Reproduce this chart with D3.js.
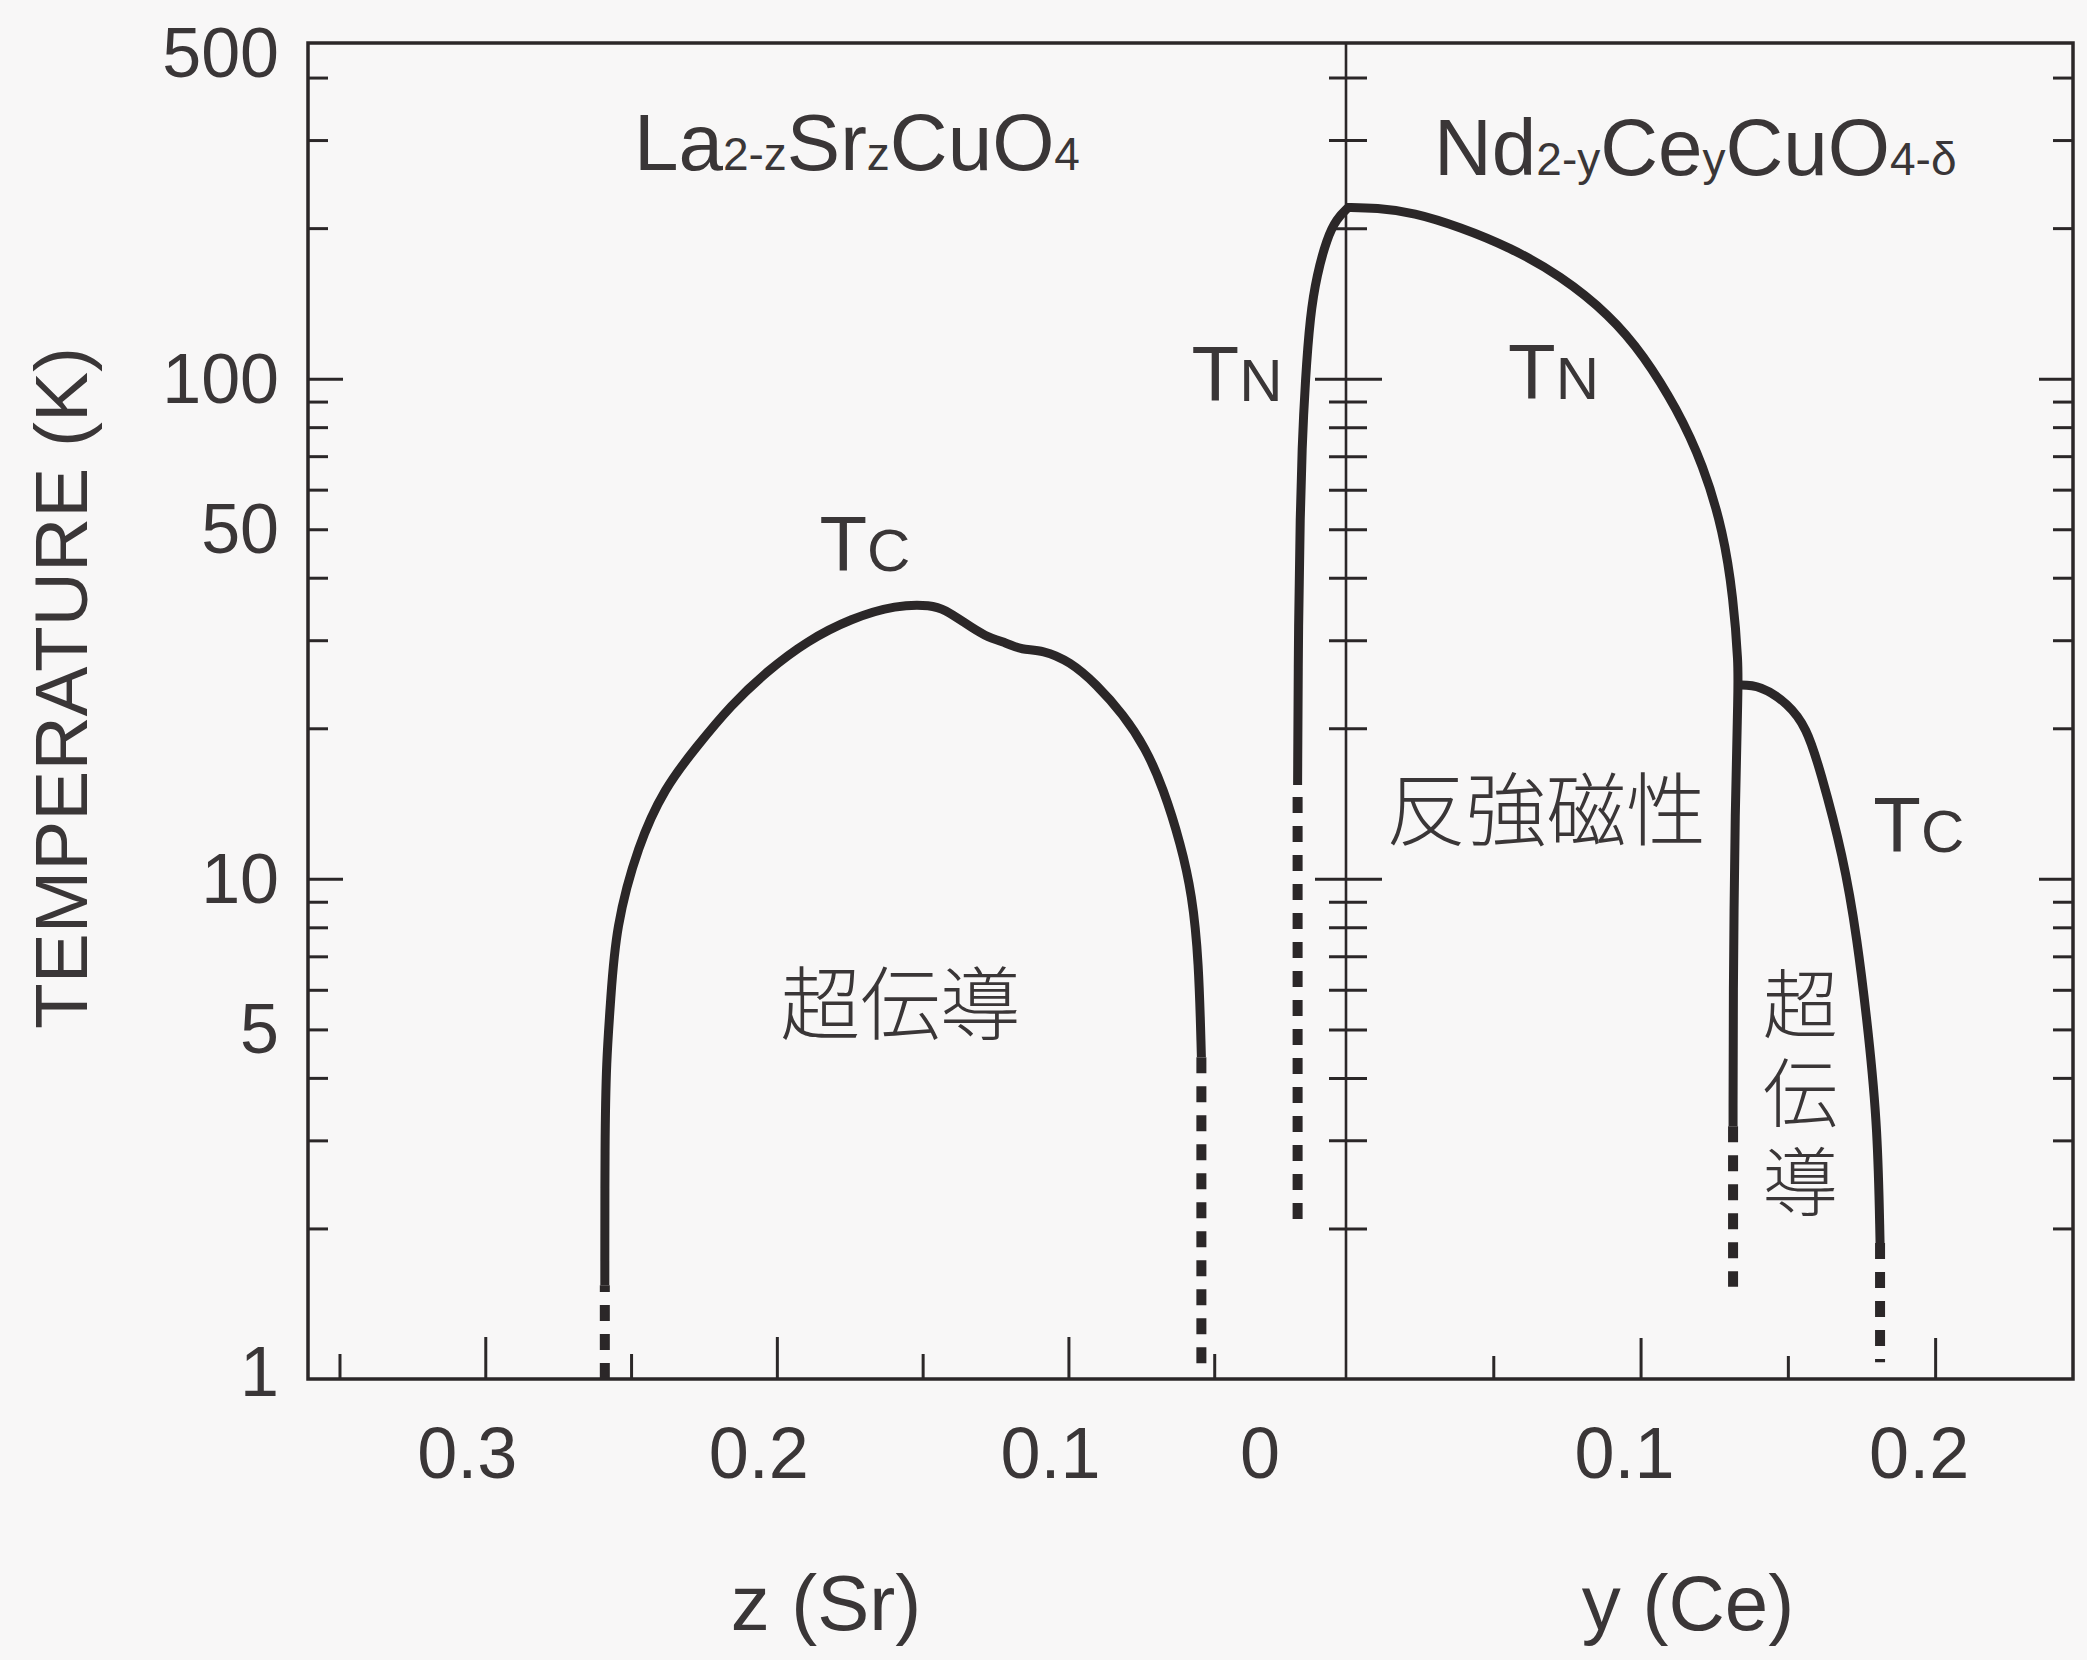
<!DOCTYPE html>
<html>
<head>
<meta charset="utf-8">
<script src="https://cdn.jsdelivr.net/npm/d3@7"></script>
<style>
  body { margin: 0; background: #f8f7f7; }
  svg text { font-family: "Liberation Sans", Arial, sans-serif; fill: #3a3637; }
  .tick line { stroke: #2b2728; stroke-width: 3; }
  .jp { font-family: "Noto Sans CJK JP", sans-serif; }
</style>
</head>
<body>
<div id="chart"></div>
<script>
// tick values
const yMinorTicks = [2, 3, 4, 5, 6, 7, 8, 9, 20, 30, 40, 50, 60, 70, 80, 90, 200, 300, 400];
const yMajorTicks = [10, 100];
const yTickLabels = [1, 5, 10, 50, 100, 500];
const zMinorTicks = [0.35, 0.25, 0.15, 0.05];
const zMajorTicks = [0.3, 0.2, 0.1];
const zTickLabels = ['0.3', '0.2', '0.1', '0'];
const ceMinorTicks = [0.05, 0.15];
const ceMajorTicks = [0.1, 0.2];
const ceTickLabels = ['0.1', '0.2'];

// La2-zSrzCuO4 : [z, T(K)]
const srTc = [[0.259, 1.54], [0.259, 3.0], [0.2585, 4.33], [0.257, 5.7], [0.2553, 8.0], [0.2476, 11.7],
  [0.2385, 15.2], [0.2278, 18.3], [0.2156, 22.3], [0.2034, 26.0], [0.1897, 29.9], [0.1744, 33.2],
  [0.1591, 35.3], [0.1469, 35.3], [0.1423, 34.5], [0.1362, 32.7], [0.1286, 30.5], [0.1209, 29.6],
  [0.1163, 28.7], [0.1088, 28.7], [0.0995, 27.2], [0.0904, 24.5], [0.0812, 21.3], [0.0736, 18.3],
  [0.0675, 15.2], [0.0614, 11.7], [0.0576, 9.3], [0.0553, 6.9], [0.0544, 4.4]];
const srTcLeftDash = [[0.259, 1.0], [0.259, 1.54]];
const srTcRightDash = [[0.0544, 4.4], [0.0544, 1.06]];
const srTn = [[0.0214, 15.4], [0.0211, 33.8], [0.0205, 53.5], [0.0199, 72.6], [0.0188, 98.6],
  [0.0171, 134], [0.0148, 161], [0.0114, 190.5], [0.008, 209], [0.004, 220]];
const srTnDash = [[0.0214, 2.09], [0.0214, 15.4]];

// Nd2-yCeyCuO4-d : [y, T(K)]
const ceTn = [[0, 220], [0.0104, 219.5], [0.0229, 215], [0.0387, 201], [0.0557, 183], [0.0727, 161],
  [0.0896, 134], [0.101, 111.5], [0.1123, 87.2], [0.1213, 67.2], [0.1281, 49.5], [0.1315, 36.4],
  [0.1332, 26.8], [0.1331, 23.7], [0.1321, 14.3], [0.1314, 5.71], [0.1314, 3.2]];
const ceTnDash = [[0.1314, 3.2], [0.1314, 1.53]];
const ceTc = [[0.1329, 24.4], [0.1407, 24.4], [0.1501, 22.4], [0.1563, 20.1], [0.161, 16.5],
  [0.1688, 11.1], [0.1735, 7.63], [0.1774, 4.91], [0.1805, 3.17], [0.1813, 1.87]];
const ceTcDash = [[0.1813, 1.87], [0.1813, 1.08]];

const W = 2087, H = 1660;
const X0 = 308, X1 = 2073, XM = 1346, Y0 = 43, Y1 = 1379;
const ink = '#2b2728';

const svg = d3.select('#chart').append('svg')
    .attr('width', W)
    .attr('height', H);

const y = d3.scaleLog().domain([1, 469]).range([Y1, Y0]).clamp(true);
const zX = d3.scaleLinear().domain([0.3608, 0]).range([X0, 1360]);
const cX = d3.scaleLinear().domain([0, 0.2468]).range([XM, X1]);

function ticks(axis, tx, ty) {
    svg.append('g')
        .attr('transform', `translate(${tx},${ty})`)
        .call(axis)
        .call(g => g.select('.domain').remove())
        .call(g => g.selectAll('.tick text').remove());
}

// y ticks: left (inward), middle (crossing), right (inward)
ticks(d3.axisRight(y).tickValues(yMinorTicks).tickSize(20), X0, 0);
ticks(d3.axisRight(y).tickValues(yMajorTicks).tickSize(35), X0, 0);
ticks(d3.axisRight(y).tickValues(yMinorTicks).tickSize(38), XM - 17, 0);
ticks(d3.axisRight(y).tickValues(yMajorTicks).tickSize(67), XM - 31, 0);
ticks(d3.axisLeft(y).tickValues(yMinorTicks).tickSize(20), X1, 0);
ticks(d3.axisLeft(y).tickValues(yMajorTicks).tickSize(34), X1, 0);

// x ticks pointing up
ticks(d3.axisTop(zX).tickValues(zMinorTicks).tickSize(25), 0, Y1);
ticks(d3.axisTop(zX).tickValues(zMajorTicks).tickSize(42), 0, Y1);
ticks(d3.axisTop(cX).tickValues(ceMinorTicks).tickSize(23), 0, Y1);
ticks(d3.axisTop(cX).tickValues(ceMajorTicks).tickSize(41), 0, Y1);

// frame + middle line
svg.append('rect')
    .attr('x', X0).attr('y', Y0)
    .attr('width', X1 - X0).attr('height', Y1 - Y0)
    .attr('fill', 'none').attr('stroke', ink).attr('stroke-width', 3.5);
svg.append('line')
    .attr('x1', cX(0)).attr('x2', cX(0))
    .attr('y1', Y0).attr('y2', Y1)
    .attr('stroke', ink).attr('stroke-width', 2.6);

// curves
function drawCurve(data, xs, dashed) {
    const line = d3.line()
        .x(d => xs(d[0]))
        .y(d => y(d[1]))
        .curve(dashed ? d3.curveLinear : d3.curveBasis);
    svg.append('path')
        .datum(data)
        .attr('d', line)
        .attr('fill', 'none')
        .attr('stroke', ink)
        .attr('stroke-width', dashed ? 10 : 9)
        .attr('stroke-linejoin', 'round')
        .attr('stroke-dasharray', dashed ? '16,13' : null);
}
drawCurve(srTc, zX, false);
drawCurve(srTcLeftDash, zX, true);
drawCurve(srTcRightDash, zX, true);
drawCurve(srTn, zX, false);
drawCurve(srTnDash, zX, true);
drawCurve(ceTn, cX, false);
drawCurve(ceTnDash, cX, true);
drawCurve(ceTc, cX, false);
drawCurve(ceTcDash, cX, true);

// y tick labels
svg.append('g').selectAll('text')
    .data(yTickLabels)
    .enter().append('text')
    .attr('x', 279)
    .attr('y', d => y(d) + (d === 500 ? 10 : d === 1 ? -7 : 0))
    .attr('text-anchor', 'end')
    .attr('dominant-baseline', 'central')
    .attr('font-size', 70)
    .text(d => d);

// x tick labels
svg.append('g').selectAll('text')
    .data(zTickLabels)
    .enter().append('text')
    .attr('x', d => zX(+d) - (d === '0' ? 100 : 18))
    .attr('y', 1478)
    .attr('text-anchor', 'middle')
    .attr('font-size', 72)
    .text(d => d);
svg.append('g').selectAll('text')
    .data(ceTickLabels)
    .enter().append('text')
    .attr('x', d => cX(+d) - 16)
    .attr('y', 1478)
    .attr('text-anchor', 'middle')
    .attr('font-size', 72)
    .text(d => d);

// axis titles
svg.append('text')
    .attr('transform', 'translate(87,688) rotate(-90)')
    .attr('text-anchor', 'middle')
    .attr('font-size', 75)
    .text('TEMPERATURE (K)');
svg.append('text')
    .attr('x', 826).attr('y', 1630)
    .attr('text-anchor', 'middle')
    .attr('font-size', 78)
    .text('z (Sr)');
svg.append('text')
    .attr('x', 1688).attr('y', 1630)
    .attr('text-anchor', 'middle')
    .attr('font-size', 78)
    .text('y (Ce)');

// labels with subscripts: [text, isSub]
function richText(x, yy, parts, big, small) {
    const t = svg.append('text').attr('x', x).attr('y', yy);
    parts.forEach(p => {
        t.append('tspan')
            .attr('font-size', p[1] ? small : big)
            .text(p[0]);
    });
}
richText(zX(0.249), y(261), [['La', 0], ['2-z', 1], ['Sr', 0], ['z', 1], ['CuO', 0], ['4', 1]], 80, 46);
richText(cX(0.0299), y(256), [['Nd', 0], ['2-y', 1], ['Ce', 0], ['y', 1], ['CuO', 0], ['4-δ', 1]], 80, 46);
richText(zX(0.1854), y(41.2), [['T', 0], ['C', 1]], 78, 60);
richText(zX(0.0578), y(90.4), [['T', 0], ['N', 1]], 78, 60);
richText(cX(0.055), y(91), [['T', 0], ['N', 1]], 78, 60);
richText(cX(0.179), y(11.3), [['T', 0], ['C', 1]], 78, 60);

// phase names
svg.append('text')
    .attr('class', 'jp')
    .attr('x', cX(0.0136)).attr('y', y(14.1))
    .attr('dominant-baseline', 'central')
    .attr('font-size', 80)
    .attr('font-weight', 300)
    .text('反強磁性');
svg.append('text')
    .attr('class', 'jp')
    .attr('x', zX(0.1577)).attr('y', y(5.79))
    .attr('text-anchor', 'middle')
    .attr('dominant-baseline', 'central')
    .attr('font-size', 80)
    .attr('font-weight', 300)
    .text('超伝導');
// vertical label, one text in vertical writing mode
svg.append('text')
    .attr('class', 'jp')
    .attr('x', cX(0.1542))
    .attr('y', y(5.63) - 38)
    .style('writing-mode', 'vertical-rl')
    .attr('letter-spacing', 14)
    .attr('font-size', 75)
    .attr('font-weight', 300)
    .text('超伝導');
</script>
</body>
</html>
